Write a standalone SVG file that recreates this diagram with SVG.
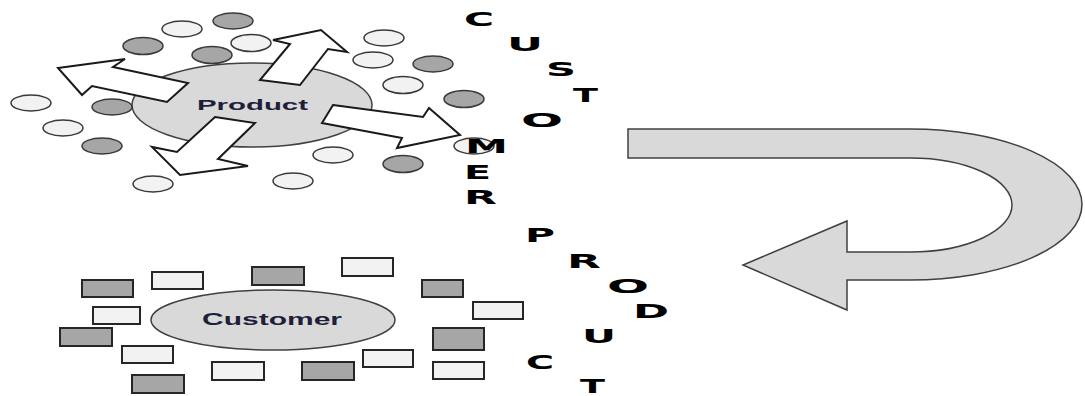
<svg xmlns="http://www.w3.org/2000/svg" width="1085" height="396" viewBox="0 0 1085 396">
<style>
.lt{fill:#f2f2f2;stroke:#3a3a3a;stroke-width:1.5}
.dk{fill:#a6a6a6;stroke:#3a3a3a;stroke-width:1.5}
.rl{fill:#f2f2f2;stroke:#262626;stroke-width:2}
.rd{fill:#a6a6a6;stroke:#262626;stroke-width:2}
.main{fill:#d9d9d9;stroke:#404040;stroke-width:1.5}
.arr{fill:#ffffff;stroke:#1a1a1a;stroke-width:2;stroke-linejoin:miter}
.lbl{font-family:"Liberation Sans",Arial,sans-serif;font-weight:bold;fill:#1f1f3a}
.ch{font-family:"DejaVu Sans","Liberation Sans",Arial,sans-serif;font-weight:bold;font-size:19px;fill:#000}
</style>
<rect width="1085" height="396" fill="#ffffff"/>
<g id="product">
<ellipse class="main" cx="252" cy="105" rx="120" ry="42"/>
<ellipse class="lt" cx="182" cy="29" rx="20" ry="8"/>
<ellipse class="dk" cx="233" cy="21" rx="20" ry="8"/>
<ellipse class="dk" cx="143" cy="46" rx="20" ry="8.5"/>
<ellipse class="lt" cx="251" cy="43" rx="20" ry="8.5"/>
<ellipse class="dk" cx="212" cy="55" rx="20" ry="8.5"/>
<ellipse class="lt" cx="384" cy="38" rx="20" ry="8"/>
<ellipse class="lt" cx="373" cy="60" rx="20" ry="8"/>
<ellipse class="dk" cx="433" cy="64" rx="20" ry="8"/>
<ellipse class="lt" cx="403" cy="85" rx="20" ry="8.5"/>
<ellipse class="dk" cx="464" cy="99" rx="20" ry="8.5"/>
<ellipse class="lt" cx="31" cy="103" rx="20" ry="8"/>
<ellipse class="dk" cx="112" cy="107" rx="20" ry="8"/>
<ellipse class="lt" cx="63" cy="128" rx="20" ry="8"/>
<ellipse class="dk" cx="102" cy="146" rx="20" ry="8"/>
<ellipse class="lt" cx="333" cy="155" rx="20" ry="8"/>
<ellipse class="dk" cx="403" cy="164" rx="20" ry="8.5"/>
<ellipse class="lt" cx="153" cy="184" rx="20" ry="8"/>
<ellipse class="lt" cx="293" cy="181" rx="20" ry="8"/>
<ellipse class="lt" cx="474" cy="146" rx="20" ry="8"/>
<text class="lbl" x="197" y="110" font-size="15" textLength="111" lengthAdjust="spacingAndGlyphs">Product</text>
</g>
<g id="arrows">
<polygon class="arr" points="58,68 125,59 113,67 188,83 167,102 92,86 82,95"/>
<polygon class="arr" points="273,40 321,30 347,52 328,49 300,85 260,80 290,44"/>
<polygon class="arr" points="333,105 423,117 429,108 460,135 397,148 402,138 322,123"/>
<polygon class="arr" points="215,117 255,123 218,159 248,166 180,175 152,147 177,152"/>
</g>
<g id="customer">
<ellipse class="main" cx="273" cy="320" rx="122" ry="30"/>
<rect class="rd" x="82" y="280" width="51" height="17"/>
<rect class="rl" x="152" y="272" width="51" height="17"/>
<rect class="rd" x="252" y="267" width="52" height="18"/>
<rect class="rl" x="342" y="258" width="51" height="18"/>
<rect class="rd" x="422" y="280" width="41" height="17"/>
<rect class="rl" x="473" y="302" width="50" height="17"/>
<rect class="rl" x="93" y="307" width="47" height="17"/>
<rect class="rd" x="60" y="328" width="52" height="18"/>
<rect class="rd" x="433" y="328" width="51" height="22"/>
<rect class="rl" x="122" y="346" width="51" height="17"/>
<rect class="rl" x="363" y="350" width="50" height="17"/>
<rect class="rl" x="212" y="362" width="52" height="18"/>
<rect class="rd" x="302" y="362" width="52" height="18"/>
<rect class="rl" x="433" y="362" width="51" height="17"/>
<rect class="rd" x="132" y="375" width="52" height="18"/>
<text class="lbl" x="202" y="325" font-size="16" textLength="140" lengthAdjust="spacingAndGlyphs">Customer</text>
</g>
<g id="letters">
<text class="ch" x="464" y="26" textLength="30" lengthAdjust="spacingAndGlyphs">C</text>
<text class="ch" x="507" y="51" textLength="36" lengthAdjust="spacingAndGlyphs">U</text>
<text class="ch" x="546" y="76" textLength="30" lengthAdjust="spacingAndGlyphs">S</text>
<text class="ch" x="573" y="102" textLength="25" lengthAdjust="spacingAndGlyphs">T</text>
<text class="ch" x="521" y="127" textLength="42" lengthAdjust="spacingAndGlyphs">O</text>
<text class="ch" x="465" y="153" textLength="43" lengthAdjust="spacingAndGlyphs">M</text>
<text class="ch" x="464" y="179" textLength="27" lengthAdjust="spacingAndGlyphs">E</text>
<text class="ch" x="464" y="204" textLength="33" lengthAdjust="spacingAndGlyphs">R</text>
<text class="ch" x="525" y="242" textLength="30" lengthAdjust="spacingAndGlyphs">P</text>
<text class="ch" x="567" y="268" textLength="34" lengthAdjust="spacingAndGlyphs">R</text>
<text class="ch" x="607" y="293" textLength="42" lengthAdjust="spacingAndGlyphs">O</text>
<text class="ch" x="633" y="318" textLength="36" lengthAdjust="spacingAndGlyphs">D</text>
<text class="ch" x="582" y="343" textLength="34" lengthAdjust="spacingAndGlyphs">U</text>
<text class="ch" x="526" y="369" textLength="28" lengthAdjust="spacingAndGlyphs">C</text>
<text class="ch" x="580" y="393" textLength="25" lengthAdjust="spacingAndGlyphs">T</text>
</g>
<g id="uturn">
<path class="main" d="M628,129 H910 A172,75.5 0 0 1 910,280 H847 V310 L743,265 L847,221 V252 H910 A102,47 0 0 0 910,158 H628 Z"/>
</g>
</svg>
